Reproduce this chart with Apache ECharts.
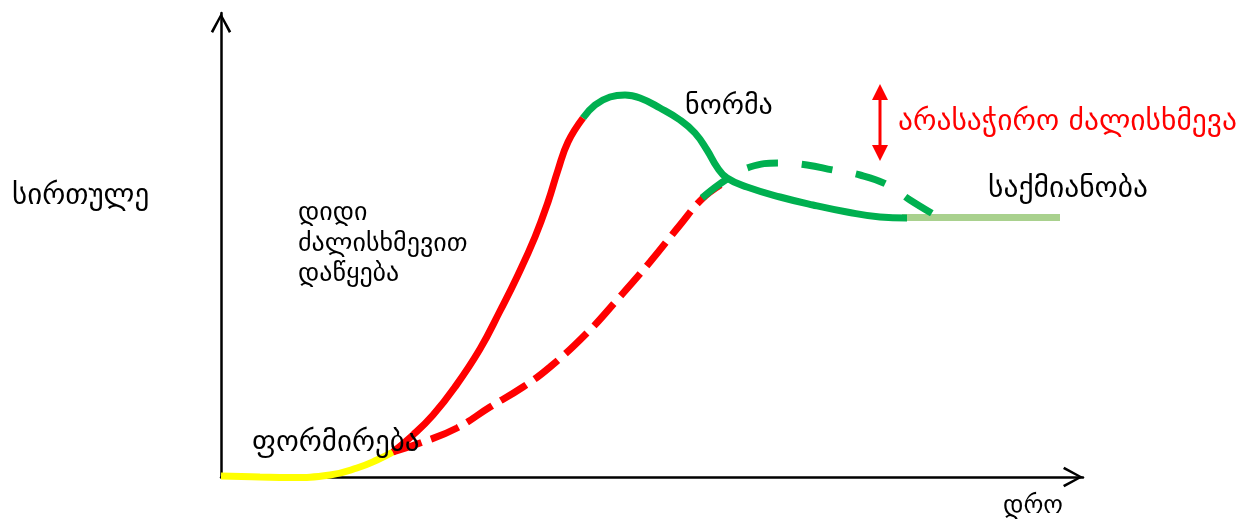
<!DOCTYPE html>
<html>
<head>
<meta charset="utf-8">
<script src="https://cdn.jsdelivr.net/npm/echarts@6/dist/echarts.min.js"></script>
<style>
html,body{margin:0;padding:0;background:#fff;}
#c{width:1239px;height:519px;}
</style>
</head>
<body>
<div id="c"></div>
<script>
// ---- data (time units along x, difficulty units along y) ----
const yellowX = [0, 39, 69, 109, 136, 156, 172];
const yellowY = [1, 0, -0.5, 2, 9, 17, 25];

const redSolidX = [172, 192, 212, 234, 259, 279, 296, 314, 327, 337, 347, 362];
const redSolidY = [25, 42, 62, 90, 128, 166, 200, 240, 275, 307, 335, 359];

const greenSolidX = [362, 374, 389, 404, 419, 439, 459, 474, 486, 496, 506, 526, 559, 592, 626, 659, 686];
const greenSolidY = [359, 372, 380, 382, 379, 369, 357, 344, 327, 310, 299, 290, 280, 272, 265, 260, 259];

const plateauX = [681, 839];
const plateauY = [259.5, 259.5];

const redDashX = [172, 202, 236, 269, 302, 329, 366, 396, 429, 459, 481, 501];
const redDashY = [25, 35, 49, 70, 90, 110, 144, 177, 215, 252, 278, 293];

const greenDashX = [481, 506, 529, 559, 586, 612, 639, 667, 689, 717];
const greenDashY = [279, 298, 310, 314, 312, 307, 302, 292, 277, 260];

const axisMaxX = 862;
const axisMaxY = 464;

const labels = {
  yTitle: 'სირთულე',
  xTitle: 'დრო',
  start: ['დიდი', 'ძალისხმევით', 'დაწყება'],
  forming: 'ფორმირება',
  norm: 'ნორმა',
  waste: 'არასაჭირო ძალისხმევა',
  activity: 'საქმიანობა'
};

function zip(xs, ys) { return xs.map((x, i) => [x, ys[i]]); }

function font(px) { return px + 'px "DejaVu Sans"'; }
const chevron = 'path://M0,20 L11,0 L22,20 L19.5,21.5 L11,5 L2.5,21.5 Z';

const chart = echarts.init(document.getElementById('c'), null, {renderer: 'canvas'});

function lineSeries(name, xs, ys, color, width, type, z) {
  return {
    name: name, type: 'line', data: zip(xs, ys), smooth: 0.45,
    showSymbol: false, symbol: 'none', clip: false, z: z,
    lineStyle: {color: color, width: width, type: type, cap: 'butt'},
    silent: true, animation: false
  };
}

function label(text, x, y, size, color) {
  return {type: 'text', z: 100, x: x, y: y, style: {text: text, font: font(size), fill: color || '#000', verticalAlign: 'middle', align: 'left'}};
}

chart.setOption({
  backgroundColor: '#ffffff',
  animation: false,
  grid: {left: 221, right: 156, top: 13, bottom: 42},
  xAxis: {
    type: 'value', min: 0, max: axisMaxX,
    axisLine: {show: true, lineStyle: {color: '#000', width: 2.5},
      symbol: ['none', chevron], symbolSize: [22, 20], symbolOffset: [0, -10]},
    axisTick: {show: false}, axisLabel: {show: false}, splitLine: {show: false}
  },
  yAxis: {
    type: 'value', min: 0, max: axisMaxY,
    axisLine: {show: true, lineStyle: {color: '#000', width: 2.5},
      symbol: ['none', chevron], symbolSize: [22, 20], symbolOffset: [0, -10]},
    axisTick: {show: false}, axisLabel: {show: false}, splitLine: {show: false}
  },
  series: [
    lineSeries('yellow', yellowX, yellowY, '#ffff00', 7, 'solid', 2),
    lineSeries('plateau', plateauX, plateauY, '#a9d18e', 7, 'solid', 3),
    lineSeries('redDash', redDashX, redDashY, '#ff0000', 7, [30, 10], 4),
    lineSeries('redSolid', redSolidX, redSolidY, '#ff0000', 7, 'solid', 5),
    lineSeries('greenSolid', greenSolidX, greenSolidY, '#00b050', 7, 'solid', 6),
    lineSeries('greenDash', greenDashX, greenDashY, '#00b050', 7, [31, 24], 7)
  ],
  graphic: [
    label(labels.yTitle, 12, 196, 29),
    label(labels.start[0], 298, 213, 26),
    label(labels.start[1], 298, 244, 26),
    label(labels.start[2], 298, 274, 26),
    label(labels.forming, 252, 443, 29),
    label(labels.norm, 685, 107, 28),
    label(labels.waste, 898, 122, 29.5, '#ff0000'),
    label(labels.activity, 988, 189, 29.5),
    label(labels.xTitle, 1003, 506, 25),
    // red double-headed arrow
    {type: 'line', z: 100, shape: {x1: 880, y1: 98, x2: 880, y2: 147}, style: {stroke: '#ff0000', lineWidth: 3}},
    {type: 'polygon', z: 100, shape: {points: [[880, 84], [872, 100], [888, 100]]}, style: {fill: '#ff0000'}},
    {type: 'polygon', z: 100, shape: {points: [[880, 161], [872, 145], [888, 145]]}, style: {fill: '#ff0000'}}
  ]
});
</script>
</body>
</html>
